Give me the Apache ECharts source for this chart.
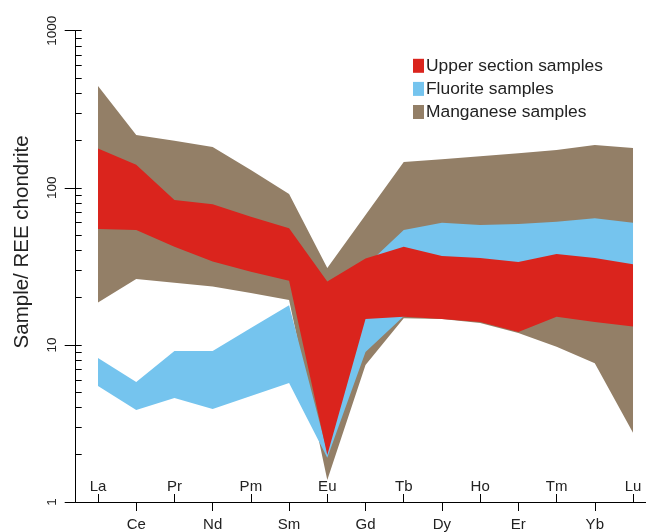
<!DOCTYPE html>
<html><head><meta charset="utf-8">
<script src="https://cdn.jsdelivr.net/npm/echarts@6/dist/echarts.min.js"></script>
<style>html,body{margin:0;padding:0;background:#fff}#c{width:646px;height:532px}</style>
</head><body><div id="c"></div>
<script>
// REE elements (x categories)
const elements = ['La','Ce','Pr','Nd','Pm','Sm','Eu','Gd','Tb','Dy','Ho','Er','Tm','Yb','Lu'];
// Manganese samples envelope
const manganeseMax = [444,217,199,182,130,91.4,30.9,67.1,146,152,159,166,174,187,179];
const manganeseMin = [18.6,26.3,24.9,23.5,21.4,19.3,1.38,7.45,14.8,14.6,13.8,11.9,9.74,7.64,2.76];
// Fluorite samples envelope
const fluoriteMax = [8.25,5.80,9.15,9.15,12.8,17.9,2.08,31.8,53.9,60.0,58.0,58.8,60.9,64.0,60.0];
const fluoriteMin = [5.47,3.85,4.59,3.91,4.73,5.72,1.91,9.01,15.2,14.8,14.2,12.4,15.3,14.3,13.3];
// Upper section samples envelope
const upperMax = [178,140,83.6,78.5,65.5,55.2,25.3,35.5,42.2,36.8,35.7,33.7,37.9,35.7,32.6];
const upperMin = [54.7,53.9,42.2,33.9,29.2,25.6,1.99,14.6,15.1,14.6,14.0,12.1,15.1,14.0,13.1];
// y tick labels
const yMajor = [1,10,100,1000];

const C_BROWN = '#937f67', C_BLUE = '#75c4ee', C_RED = '#da241d';
const FONT = 'Liberation Sans, Arial, sans-serif';
const TXT = '#222';

const idx = elements.map((_, i) => i);
const evenIdx = idx.filter(i => i % 2 === 0);
const oddIdx = idx.filter(i => i % 2 === 1);
const yMinor = [];
[1,10,100].forEach(d => { for (let k = 1; k <= 9; k++) yMinor.push(d * k); });
yMinor.push(1000);

const xMin = -0.584, xMax = 14.34;

function bandSeries(name, minArr, maxArr, color, z) {
  return {
    type:'custom', name, color, z, silent:true, animation:false, clip:false,
    itemStyle:{color},
    encode:{x:0, y:[1,2]},
    data: minArr.map((v,i)=>[i, v, maxArr[i]]),
    renderItem: function (params, api) {
      if (params.dataIndex !== 0) return null;
      const top = maxArr.map((v,i)=>api.coord([i, v]));
      const bottom = minArr.map((v,i)=>api.coord([i, v])).reverse();
      return { type:'polygon', shape:{points: top.concat(bottom)}, style:{fill:color, stroke:null} };
    }
  };
}

const chart = echarts.init(document.getElementById('c'), null, {renderer:'canvas'});
chart.setOption({
  animation:false,
  backgroundColor:'#fff',
  textStyle:{fontFamily:FONT},
  grid:{left:75.7, top:30.7, right:0, bottom:30, containLabel:false, outerBoundsMode:'none'},
  legend:{
    orient:'vertical', left:413, top:57.3, padding:0, itemWidth:11, itemHeight:14, itemGap:6.1, icon:'rect',
    selectedMode:false,
    itemStyle:{borderWidth:0},
    textStyle:{fontSize:17.4, color:TXT, fontFamily:FONT, padding:[0,0,0,-3]},
    data:[
      {name:'Upper section samples', itemStyle:{color:C_RED}},
      {name:'Fluorite samples', itemStyle:{color:C_BLUE}},
      {name:'Manganese samples', itemStyle:{color:C_BROWN}}
    ]
  },
  xAxis:[
    { type:'value', min:xMin, max:xMax, position:'bottom',
      axisLine:{show:true, onZero:false, lineStyle:{color:'#000', width:1}},
      axisTick:{show:true, inside:true, length:8, customValues:evenIdx, lineStyle:{color:'#000'}},
      axisLabel:{inside:true, margin:7.5, customValues:evenIdx, formatter:v=>elements[Math.round(v)],
        fontSize:15, color:TXT, fontFamily:FONT},
      splitLine:{show:false} },
    { type:'value', min:xMin, max:xMax, position:'bottom', offset:0,
      axisLine:{show:false, onZero:false},
      axisTick:{show:true, inside:false, length:9, customValues:oddIdx, lineStyle:{color:'#000'}},
      axisLabel:{margin:15, customValues:oddIdx, formatter:v=>elements[Math.round(v)],
        fontSize:15, color:TXT, fontFamily:FONT},
      splitLine:{show:false} }
  ],
  yAxis:[
    { type:'log', logBase:10, min:1, max:1000, position:'left',
      axisLine:{show:true, onZero:false, lineStyle:{color:'#000', width:1}},
      axisTick:{show:true, inside:true, length:6, customValues:yMinor, lineStyle:{color:'#000'}},
      axisLabel:{show:false}, splitLine:{show:false},
      name:'Sample/ REE chondrite', nameLocation:'middle', nameGap:42.4,
      nameTextStyle:{fontSize:20.5, color:TXT, fontFamily:FONT, padding:[0,0,0,49]} },
    { type:'log', logBase:10, min:1, max:1000, position:'left', offset:0,
      axisLine:{show:false, onZero:false},
      axisTick:{show:true, inside:false, length:11, customValues:yMajor, lineStyle:{color:'#000'}},
      axisLabel:{rotate:90, margin:16, fontSize:13.5, color:TXT, fontFamily:FONT,
        customValues:yMajor, formatter:v=>String(Math.round(v))},
      splitLine:{show:false} }
  ],
  series:[
    bandSeries('Manganese samples', manganeseMin, manganeseMax, C_BROWN, 1),
    bandSeries('Fluorite samples', fluoriteMin, fluoriteMax, C_BLUE, 2),
    bandSeries('Upper section samples', upperMin, upperMax, C_RED, 3)
  ]
});
</script></body></html>
